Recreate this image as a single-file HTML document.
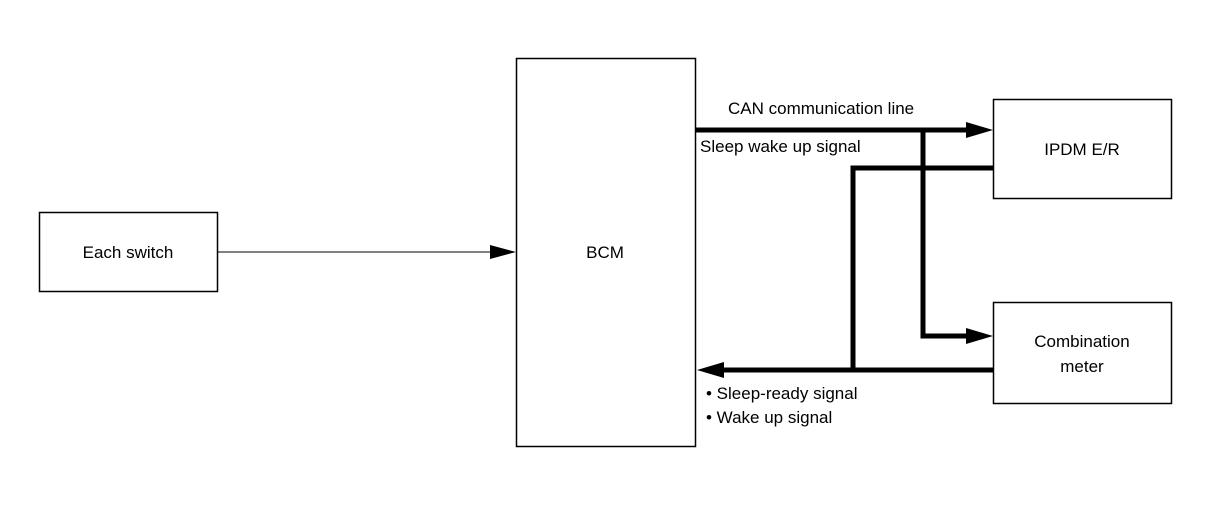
<!DOCTYPE html>
<html><head><style>
body{margin:0;background:#fff;}
svg text{font-family:"Liberation Sans",sans-serif;font-size:17px;fill:#000;}
</style></head><body>
<svg width="1216" height="512" xmlns="http://www.w3.org/2000/svg">
<g fill="none" stroke="#000" stroke-width="1.5">
<rect x="39.5" y="212.5" width="178" height="79"/>
<rect x="516.5" y="58.5" width="179" height="388"/>
<rect x="993.5" y="99.5" width="178" height="99"/>
<rect x="993.5" y="302.5" width="178" height="101"/>
<line x1="218" y1="252" x2="495" y2="252" stroke-width="1"/>
</g>
<polygon points="516,252 490,245 490,259" fill="#000"/>
<g fill="none" stroke="#000" stroke-width="5">
<polyline points="696,130 970,130"/>
<polyline points="923,130 923,336 970,336"/>
<polyline points="993,168 853,168 853,370"/>
<polyline points="993,370 720,370"/>
</g>
<polygon points="993,130 966,122 966,138" fill="#000"/>
<polygon points="993,336 966,328 966,344" fill="#000"/>
<polygon points="697,370 724,362 724,378" fill="#000"/>
<text x="128" y="258" text-anchor="middle">Each switch</text>
<text x="605" y="258" text-anchor="middle">BCM</text>
<text x="1082" y="155" text-anchor="middle">IPDM E/R</text>
<text x="1082" y="347" text-anchor="middle">Combination</text>
<text x="1082" y="372" text-anchor="middle">meter</text>
<text x="728" y="114">CAN communication line</text>
<text x="700" y="152">Sleep wake up signal</text>
<text x="706" y="399">• Sleep-ready signal</text>
<text x="706" y="423">• Wake up signal</text>
</svg>
</body></html>
